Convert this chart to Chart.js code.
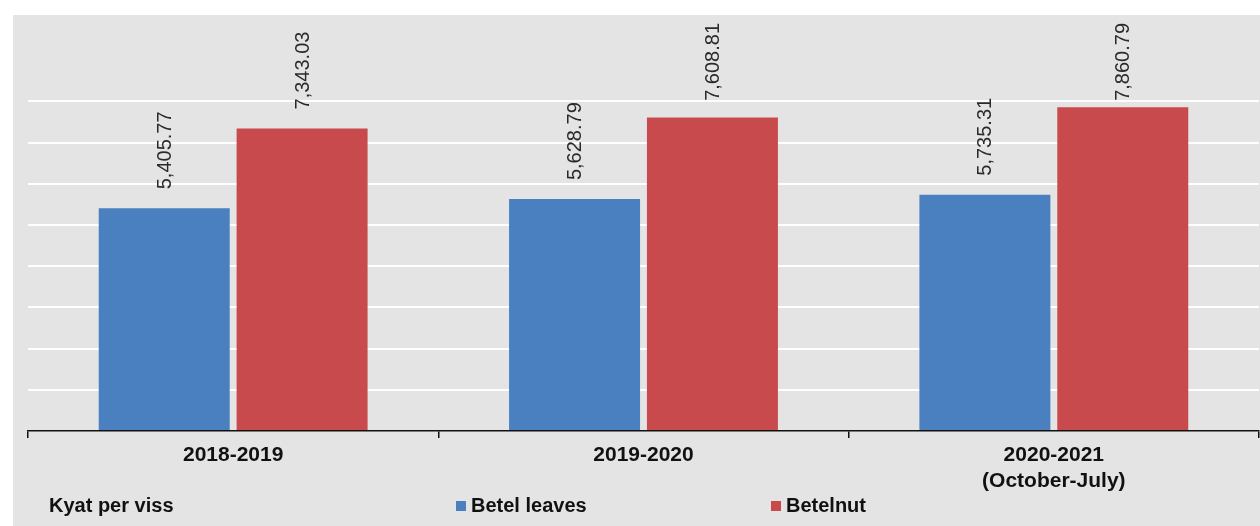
<!DOCTYPE html>
<html>
<head>
    <title>Betel leaves and Betelnut prices</title>
    <script src="https://cdn.jsdelivr.net/npm/chart.js"></script>
    <style>
        body { margin: 0; background: #fff; }
    </style>
</head>
<body>
    <canvas id="priceChart" width="1260" height="526"></canvas>
    <script>
        // Data
        const categories = ['2018-2019', '2019-2020', ['2020-2021', '(October-July)']];
        const betelLeaves = [5405.77, 5628.79, 5735.31];
        const betelnut = [7343.03, 7608.81, 7860.79];
        const unitLabel = 'Kyat per viss';

        const BLUE = '#4a7fc0';
        const RED = '#c94a4d';
        const FONT = '"Liberation Sans", Arial, sans-serif';

        // gray panel behind the chart
        const panelBg = {
            id: 'panelBg',
            beforeDraw(chart) {
                const c = chart.ctx;
                c.save();
                c.fillStyle = '#e4e4e4';
                c.fillRect(13, 15, chart.width - 13, chart.height - 15);
                c.restore();
            }
        };

        // rotated value labels above each bar (kept inside the panel)
        const valueLabels = {
            id: 'valueLabels',
            afterDatasetsDraw(chart) {
                const c = chart.ctx;
                c.save();
                c.font = '20px ' + FONT;
                c.fillStyle = '#2a2a2a';
                c.textAlign = 'left';
                c.textBaseline = 'middle';
                chart.data.datasets.forEach((ds, i) => {
                    chart.getDatasetMeta(i).data.forEach((bar, j) => {
                        const txt = ds.data[j].toLocaleString('en-US', { minimumFractionDigits: 2, maximumFractionDigits: 2 });
                        const w = c.measureText(txt).width;
                        let start = bar.y - 19;
                        if (start - w < 23) start = 23 + w;
                        c.save();
                        c.translate(bar.x + 1, start);
                        c.rotate(-Math.PI / 2);
                        c.fillText(txt, 0, 0);
                        c.restore();
                    });
                });
                c.restore();
            }
        };

        // unit note and legend along the bottom
        const bottomLegend = {
            id: 'bottomLegend',
            afterDraw(chart) {
                const c = chart.ctx;
                const y = 506;
                c.save();
                c.font = 'bold 20px ' + FONT;
                c.fillStyle = '#111';
                c.textBaseline = 'middle';
                c.textAlign = 'left';
                c.fillText(unitLabel, 49, y);
                const items = [[456, 0], [771, 1]];
                items.forEach(([x, i]) => {
                    const ds = chart.data.datasets[i];
                    c.fillStyle = ds.backgroundColor;
                    c.fillRect(x, y - 5, 10, 10);
                    c.fillStyle = '#111';
                    c.fillText(ds.label, x + 15, y);
                });
                c.restore();
            }
        };

        const ctx = document.getElementById('priceChart').getContext('2d');
        const chart = new Chart(ctx, {
            type: 'bar',
            data: {
                labels: categories,
                datasets: [{
                    label: 'Betel leaves',
                    data: betelLeaves,
                    backgroundColor: BLUE
                }, {
                    label: 'Betelnut',
                    data: betelnut,
                    backgroundColor: RED
                }]
            },
            options: {
                responsive: false,
                animation: false,
                layout: { padding: { left: 28, right: 1, top: 19, bottom: 0 } },
                categoryPercentage: 0.672,
                barPercentage: 0.95,
                plugins: {
                    legend: { display: false },
                    tooltip: { enabled: false }
                },
                scales: {
                    x: {
                        grid: {
                            drawOnChartArea: false,
                            drawTicks: true,
                            tickLength: 7,
                            color: '#111',
                            lineWidth: 1.5
                        },
                        border: { display: true, color: '#111', width: 1.5 },
                        ticks: {
                            color: '#111',
                            padding: 5,
                            font: { family: FONT, size: 21, weight: 'bold' }
                        },
                        afterFit(s) { s.height = 95; }
                    },
                    y: {
                        min: 0,
                        max: 10000,
                        ticks: { display: false, stepSize: 1000 },
                        grid: {
                            drawTicks: false,
                            lineWidth: 2,
                            color: c => (c.tick && c.tick.value >= 1000 && c.tick.value <= 8000) ? '#ffffff' : 'rgba(0,0,0,0)'
                        },
                        border: { display: false },
                        afterFit(s) { s.width = 0; }
                    }
                }
            },
            plugins: [panelBg, valueLabels, bottomLegend]
        });
    </script>
</body>
</html>
